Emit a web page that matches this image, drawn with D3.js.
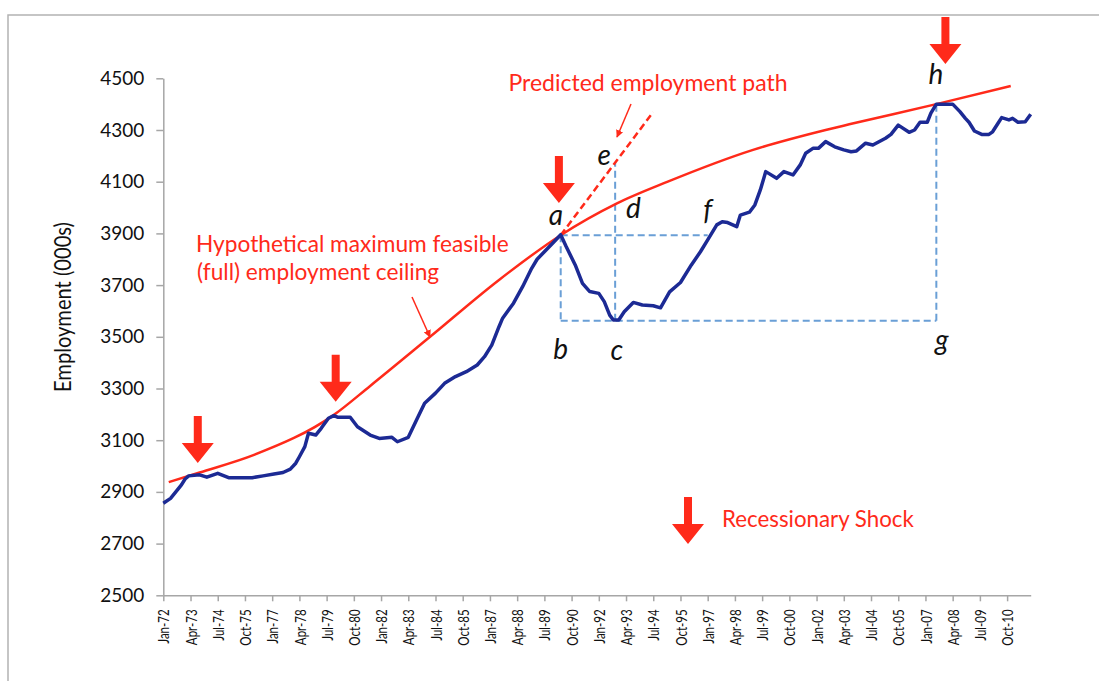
<!DOCTYPE html>
<html>
<head>
<meta charset="utf-8">
<script src="https://cdn.jsdelivr.net/npm/d3@7"></script>
<style>
  body { margin: 0; background: #fff; }
  text { font-family: Lato, "Open Sans", sans-serif; }
</style>
</head>
<body>
<div class="EmpVis"></div>
<script>
// months since Jan-72 and employment (000s)
var empMonth = [0,4,7,10,12,14,20,24,30,36,42,49,55,61,66,70,73,75,78,80,84,87,91,94,96,103,107,114,119,126,
  129,135,140,144,150,155,161,167,173,177,181,185,187,193,198,203,206,210,214,219,222,227,231,235,240,243,246,248,251,254,
  259,264,270,274,279,285,291,296,300,305,308,311,316,318,323,326,329,332,338,342,347,351,354,358,361,365,370,375,379,382,
  387,391,398,401,405,411,414,417,421,423,426,435,439,442,444,447,451,455,457,460,462,466,468,471,475,478];
var empValue = [2856,2875,2901,2927,2950,2962,2966,2957,2972,2955,2955,2955,2962,2969,2975,2988,3011,3036,3075,3127,
  3120,3146,3185,3195,3189,3189,3152,3120,3107,3111,3094,3111,3185,3243,3282,3320,3346,3365,3391,3423,
  3468,3539,3572,3630,3694,3765,3800,3829,3858,3895,3849,3778,3707,3675,3668,3636,3584,3565,3565,3597,
  3633,3623,3620,3612,3674,3710,3778,3829,3875,3933,3945,3942,3926,3971,3982,4010,4068,4139,4113,4139,
  4126,4165,4210,4229,4229,4255,4235,4223,4216,4219,4249,4242,4268,4283,4319,4291,4300,4330,4330,4365,
  4400,4400,4371,4345,4330,4296,4283,4283,4293,4326,4348,4339,4345,4330,4332,4361];

// full employment ceiling
var ceilMonth = [3,20,50,94,114,147,185,219,250,278,325,365,378,426,467];
var ceilValue = [2938,2975,3043,3198,3310,3500,3720,3893,4016,4100,4223,4300,4322,4400,4470];

// predicted path from a
var predMonth = [219, 270];
var predValue = [3893, 4370];

// recession shocks (arrow tips)
var shockMonth = [19, 95, 218, 431];
var shockValue = [3012, 3249, 4018, 4555];

// dashed guides a-f, a-b, b-g, g-h, c-e
var guideMonth = [[219,300],[219,219],[219,426],[426,426],[249,249]];
var guideValue = [[3893,3893],[3893,3562],[3562,3562],[3562,4400],[3562,4176]];

// point letters
var ptName  = ["a","b","c","d","e","f","g","h"];
var ptMonth = [216.4,219,250,259,243,300,429,425.7];
var ptValue = [3933,3414,3410,3960,4165,3952,3449,4478];

var yTicks = [2500,2700,2900,3100,3300,3500,3700,3900,4100,4300,4500];
var monNames = ["Jan","Feb","Mar","Apr","May","Jun","Jul","Aug","Sep","Oct","Nov","Dec"];

var W = 1099, H = 681;
var red = "#ff2a1a", navy = "#1c2a94", guideCol = "#6a9fd6";

var x = d3.scaleLinear().domain([0, 478]).range([163.3, 1030.7]);
var y = d3.scaleLinear().domain([2500, 4500]).range([595.3, 78.3]);

var svg = d3.select(".EmpVis").append("svg")
  .attr("width", W).attr("height", H);

svg.append("rect")
  .attr("x", 8).attr("y", 15).attr("width", W + 20).attr("height", H + 20)
  .attr("fill", "none").attr("stroke", "#b3b3b3").attr("stroke-width", 1.5);

var defs = svg.append("defs");
defs.append("marker")
  .attr("id", "thinHead").attr("viewBox", "0 0 10 10")
  .attr("refX", 9).attr("refY", 5)
  .attr("markerWidth", 5).attr("markerHeight", 5)
  .attr("orient", "auto")
  .append("path").attr("d", "M0,0 L10,5 L0,10 z").attr("fill", red);

// axes
var yAxis = svg.append("g")
  .attr("transform", "translate(" + x(0) + ",0)")
  .call(d3.axisLeft(y).tickValues(yTicks).tickFormat(d3.format("d"))
    .tickSize(7).tickPadding(12).tickSizeOuter(0));
yAxis.selectAll("text").attr("font-size", 19).attr("fill", "#111");

var xTickVals = d3.range(0, 466, 15);
var xAxis = svg.append("g")
  .attr("transform", "translate(0," + y(2500) + ")")
  .call(d3.axisBottom(x).tickValues(xTickVals).tickSize(6).tickSizeOuter(0)
    .tickFormat(function (m) {
      var yr = (72 + Math.floor(m / 12)) % 100;
      return monNames[m % 12] + "-" + (yr < 10 ? "0" + yr : yr);
    }));
// narrow, tall labels like the original
xAxis.selectAll("text")
  .attr("font-size", 16).attr("fill", "#111")
  .attr("transform", "translate(0,14) rotate(-90) scale(0.72,1)")
  .attr("text-anchor", "end")
  .attr("x", 0).attr("y", 0).attr("dy", "0.35em");

svg.selectAll(".domain, .tick line").attr("stroke", "#a6a6a6").attr("stroke-width", 1.5);

svg.append("text")
  .attr("transform", "translate(71,307) rotate(-90)")
  .attr("text-anchor", "middle")
  .attr("font-size", 23).attr("fill", "#111")
  .attr("textLength", 170).attr("lengthAdjust", "spacingAndGlyphs")
  .text("Employment (000s)");

// guides
var guideLine = d3.line().x(function (d) { return x(d[0]); }).y(function (d) { return y(d[1]); });
svg.selectAll(".guide")
  .data(guideMonth)
  .enter().append("path")
  .attr("class", "guide")
  .attr("d", function (d, i) { return guideLine([[d[0], guideValue[i][0]], [d[1], guideValue[i][1]]]); })
  .attr("fill", "none").attr("stroke", guideCol).attr("stroke-width", 2)
  .attr("stroke-dasharray", "7 4");

// ceiling
var ceilData = ceilMonth.map(function (m, i) { return [m, ceilValue[i]]; });
svg.append("path")
  .attr("d", d3.line().x(function (d) { return x(d[0]); }).y(function (d) { return y(d[1]); })
    .curve(d3.curveMonotoneX)(ceilData))
  .attr("fill", "none").attr("stroke", red).attr("stroke-width", 2.5);

// predicted path
svg.append("path")
  .attr("d", guideLine(predMonth.map(function (m, i) { return [m, predValue[i]]; })))
  .attr("fill", "none").attr("stroke", red).attr("stroke-width", 2.5)
  .attr("stroke-dasharray", "7 4");

// employment
var empData = empMonth.map(function (m, i) { return [m, empValue[i]]; });
svg.append("path")
  .attr("d", d3.line().x(function (d) { return x(d[0]); }).y(function (d) { return y(d[1]); })(empData))
  .attr("fill", "none").attr("stroke", navy).attr("stroke-width", 3.5)
  .attr("stroke-linejoin", "round");

// shock arrows
function shockArrow(px, py) {
  return "M" + (px - 4) + "," + (py - 47) + " h8 v27 h12 L" + px + "," + py +
    " L" + (px - 16) + "," + (py - 20) + " h12 z";
}
svg.selectAll(".shock")
  .data(shockMonth)
  .enter().append("path")
  .attr("class", "shock")
  .attr("d", function (d, i) { return shockArrow(x(d), y(shockValue[i])); })
  .attr("fill", red);

// letters
svg.selectAll(".pt")
  .data(ptName)
  .enter().append("text")
  .attr("class", "pt")
  .attr("x", function (d, i) { return x(ptMonth[i]); })
  .attr("y", function (d, i) { return y(ptValue[i]); })
  .attr("text-anchor", "middle")
  .attr("font-size", 28).attr("font-style", "italic").attr("fill", "#111")
  .text(function (d) { return d; });

// annotations
svg.append("text").attr("x", 648).attr("y", 91).attr("text-anchor", "middle")
  .attr("font-size", 23).attr("fill", red).text("Predicted employment path");
svg.append("line").attr("x1", 631).attr("y1", 104).attr("x2", 617).attr("y2", 137)
  .attr("stroke", red).attr("stroke-width", 1.5).attr("marker-end", "url(#thinHead)");

svg.append("text").attr("x", 196).attr("y", 252)
  .attr("font-size", 22.7).attr("fill", red).text("Hypothetical maximum feasible");
svg.append("text").attr("x", 197).attr("y", 280)
  .attr("font-size", 22.7).attr("fill", red).text("(full) employment ceiling");
svg.append("line").attr("x1", 412).attr("y1", 297).attr("x2", 430).attr("y2", 337)
  .attr("stroke", red).attr("stroke-width", 1.5).attr("marker-end", "url(#thinHead)");

// legend
svg.append("path").attr("d", shockArrow(688, 544)).attr("fill", red);
svg.append("text").attr("x", 722).attr("y", 527)
  .attr("font-size", 22.3).attr("fill", red).text("Recessionary Shock");
</script>
</body>
</html>
